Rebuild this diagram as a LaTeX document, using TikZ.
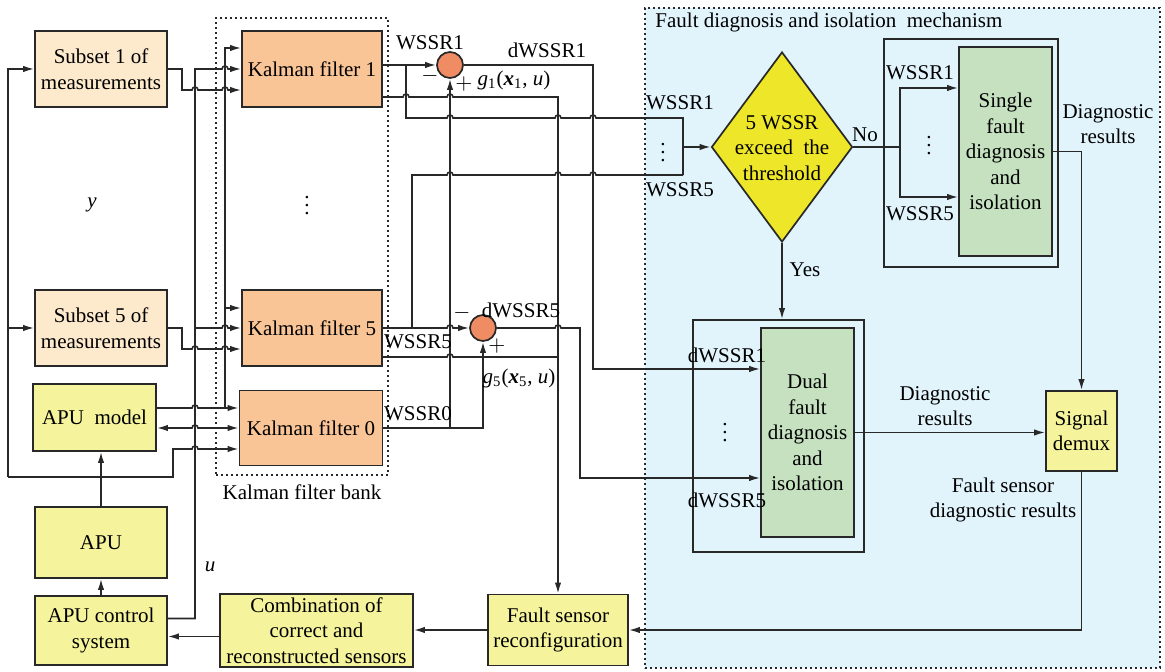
\documentclass[tikz,border=0pt]{standalone}
\usepackage{fontspec}
\setmainfont{Liberation Serif}
\usepackage{tikz}
\usetikzlibrary{arrows.meta,positioning,shapes.geometric}
\definecolor{linegray}{RGB}{40,40,40}
\definecolor{subsetfill}{RGB}{253,233,204}
\definecolor{kalmanfill}{RGB}{249,196,150}
\definecolor{sumfill}{RGB}{240,140,100}
\definecolor{plantfill}{RGB}{245,243,155}
\definecolor{decfill}{RGB}{238,230,40}
\definecolor{diagfill}{RGB}{197,225,192}
\definecolor{fdifill}{RGB}{225,243,251}
\newcommand{\hop}{arc[start angle=180,end angle=0,radius=1.5pt]}

\begin{document}
\begin{tikzpicture}[
  x=0.5pt, y=-0.5pt,
  font=\fontsize{10.5}{12.8}\selectfont,
  box/.style={draw=linegray,line width=0.85pt,align=center,inner sep=1pt},
  subset/.style={box,fill=subsetfill,minimum width=66pt,minimum height=38pt},
  kalman/.style={box,fill=kalmanfill,minimum width=70pt,minimum height=38pt},
  plant/.style={box,fill=plantfill},
  diagbox/.style={box,fill=diagfill,minimum width=46.5pt,minimum height=104.5pt},
  frame/.style={draw=linegray,line width=0.85pt,inner sep=0pt},
  sumnode/.style={circle,draw=linegray,fill=sumfill,line width=0.85pt,minimum size=13pt,inner sep=0pt},
  decision/.style={diamond,draw=linegray,fill=decfill,line width=0.85pt,minimum width=70.5pt,minimum height=95pt,inner sep=0pt},
  dotframe/.style={draw=linegray,line width=0.9pt,dash pattern=on 0.9pt off 1.6pt,inner sep=0pt},
  wire/.style={draw=linegray,line width=0.8pt},
  arr/.style={wire,-{Latex[length=5.5pt,width=3.2pt]}},
  dblarr/.style={wire,{Latex[length=5.5pt,width=3.2pt]}-{Latex[length=5.5pt,width=3.2pt]}},
  lab/.style={inner sep=0pt,align=center}
]
\useasboundingbox (0,0) rectangle (1165,672);

\node[dotframe,fill=fdifill,minimum width=257.5pt,minimum height=330pt] (fdi) at (902.5,338) {};
\node[lab,anchor=west] (fditext) at (655,22) {Fault diagnosis and isolation~ mechanism};
\node[dotframe,minimum width=86pt,minimum height=228.5pt] (bank) at (302,246.5) {};
\node[lab] (banktext) at (302,492) {Kalman filter bank};

\node[subset] (sub1) at (101,69) {Subset 1 of\\measurements};
\node[subset] (sub5) at (101,328) {Subset 5 of\\measurements};
\node[plant,minimum width=61.5pt,minimum height=33.5pt] (apumodel) at (94.5,417.5) {APU~ model};
\node[plant,minimum width=66pt,minimum height=35.5pt] (apu) at (101,542.5) {APU};
\node[plant,minimum width=66pt,minimum height=34.5pt] (apuctrl) at (101,630.5) {APU control\\system};
\node[plant,minimum width=96.5pt,minimum height=36.5pt] (comb) at (316.5,630.5) {Combination of\\correct and\\reconstructed sensors};
\node[plant,minimum width=70pt,minimum height=35.5pt] (reconf) at (558,630) {Fault sensor\\reconfiguration};

\node[kalman] (kf1) at (312,69) {Kalman filter 1};
\node[kalman] (kf5) at (312,328) {Kalman filter 5};
\node[kalman,minimum width=71.5pt,minimum height=37.5pt] (kf0) at (311,428) {Kalman filter 0};
\node[lab] (kfdots) at (307,200) {$\vdots$};

\node[sumnode] (sum1) at (450,65) {};
\node[sumnode] (sum5) at (483,328) {};

\node[decision] (dec) at (782,147) {};
\node[lab] (dectext) at (782,148) {5 WSSR\\exceed~ the\\threshold};
\node[frame,minimum width=87pt,minimum height=114pt] (singleframe) at (971,153) {};
\node[diagbox] (single) at (1005.5,151.5) {Single\\fault\\diagnosis\\and\\isolation};
\node[frame,minimum width=85.5pt,minimum height=116pt] (dualframe) at (778.5,436) {};
\node[diagbox] (dual) at (807.5,432.5) {Dual\\fault\\diagnosis\\and\\isolation};
\node[plant,minimum width=35.5pt,minimum height=40pt] (demux) at (1081.5,431) {Signal\\demux};

\coordinate (ybus) at (8,477);
\draw[arr] (ybus) |- (sub1.west);
\draw[arr] (ybus |- sub5.west) -- (sub5.west);
\draw[arr] (ybus) -- (173,477) -- (173,449) -- (192,449) \hop -- ([yshift=-10.5pt]kf0.west);

\draw[arr] (sub1.east) -- (182,69) -- (182,90) -- (192,90) \hop -- (222,90) \hop -- ([yshift=-10.5pt]kf1.west);
\draw[arr] (sub5.east) -- (182,328) -- (182,349) -- (192,349) \hop -- (222,349) \hop -- ([yshift=-10.5pt]kf5.west);

\draw[arr] ([yshift=6pt]apuctrl.east) -| (195,69) -- (222,69) \hop -- (kf1.west);
\draw[arr] (195,328) -- (222,328) \hop -- (kf5.west);

\draw[arr] ([yshift=4.75pt]apumodel.east) -- (192,408) \hop -- ([yshift=10pt]kf0.west);
\draw[arr] (225,408) -- (225,48) -- ([yshift=10.5pt]kf1.west);
\draw[arr] (225,308) -- ([yshift=10pt]kf5.west);
\draw[dblarr] (kf0.west -| apumodel.east) -- (192,428) \hop -- (kf0.west);

\draw[arr] (apu.north) -- (apu.north |- apumodel.south);
\draw[arr] (apuctrl.north) -- (apu.south);
\draw[arr] ([yshift=-3pt]comb.west) -- ([yshift=-3pt]apuctrl.east);
\draw[arr] (reconf.west) -- (reconf.west -| comb.east);
\draw[arr] (demux.south) |- (reconf.east);

\draw[arr] (kf1.east |- sum1.west) -- (sum1.west);
\draw[wire] (406,65) -- (406,118) -- (447,118) \hop -- (555,118) \hop -- (590,118) \hop -- (683,118) -- (683,175);
\draw[arr] ([yshift=-14pt]kf1.east) -- (403,97) \hop -- (447,97) \hop -- (558,97) -- (reconf.north);
\draw[arr] (sum1.east) -- (593,65) -- (593,369) -- ([yshift=31.75pt]dual.west);

\draw[arr] (kf5.east) -- (447,328) \hop -- (sum5.west);
\draw[wire] (412,328) -- (412,175) -- (447,175) \hop -- (555,175) \hop -- (590,175) \hop -- (683,175);
\draw[wire] ([yshift=-14.5pt]kf5.east) -- (447,357) \hop -- (558,357);
\draw[arr] (683,147) -- (dec.west);

\draw[arr] (kf0.east) -| (sum5.south);
\draw[arr] (450,428) -- (sum1.south);
\draw[arr] (sum5.east) -- (555,328) \hop -- (580,328) -- (580,478) -- ([yshift=-22.75pt]dual.west);

\draw[arr] (dec.east) -- (900,147) |- ([yshift=31.75pt]single.west);
\draw[arr] (900,147) |- ([yshift=-22.75pt]single.west);
\draw[arr] (dec.south) -- (dec.south |- dualframe.north);
\draw[arr] (single.east) -| (demux.north);
\draw[arr] (dual.east) -- (dual.east -| demux.west);

\node[lab] (ylab) at (92,205) {\textit{y}};
\node[lab] (ulab) at (210,567) {\textit{u}};
\node[lab] (w1lab) at (430,43) {WSSR1};
\node[lab] (dw1lab) at (547,50) {dWSSR1};
\node[lab] (minus1) at (430,76) {$-$};
\node[lab] (plus1) at (464,84) {$+$};
\node[lab] (g1lab) at (514,80) {\textit{g}\textsubscript{1}(\textbf{\textit{x}}\textsubscript{1}, \textit{u})};
\node[lab] (dw5lab) at (521,310) {dWSSR5};
\node[lab] (minus5) at (462,313) {$-$};
\node[lab] (plus5) at (497,346) {$+$};
\node[lab] (w5lab) at (418,342) {WSSR5};
\node[lab] (g5lab) at (519,378) {\textit{g}\textsubscript{5}(\textbf{\textit{x}}\textsubscript{5}, \textit{u})};
\node[lab] (w0lab) at (418,414) {WSSR0};
\node[lab] (inw1lab) at (680,103) {WSSR1};
\node[lab] (indots) at (663,147) {$\vdots$};
\node[lab] (inw5lab) at (680,190) {WSSR5};
\node[lab] (nolab) at (865,135) {No};
\node[lab] (yeslab) at (805,270) {Yes};
\node[lab] (sw1lab) at (920,73) {WSSR1};
\node[lab] (sdots) at (929,140) {$\vdots$};
\node[lab] (sw5lab) at (920,214) {WSSR5};
\node[lab] (sreslab) at (1108,124) {Diagnostic\\results};
\node[lab] (dw1in) at (727,355) {dWSSR1};
\node[lab] (ddots) at (725,427) {$\vdots$};
\node[lab] (dw5in) at (727,500) {dWSSR5};
\node[lab] (dreslab) at (945,406) {Diagnostic\\results};
\node[lab] (freslab) at (1003,500) {Fault sensor\\diagnostic results};
\end{tikzpicture}
\end{document}
